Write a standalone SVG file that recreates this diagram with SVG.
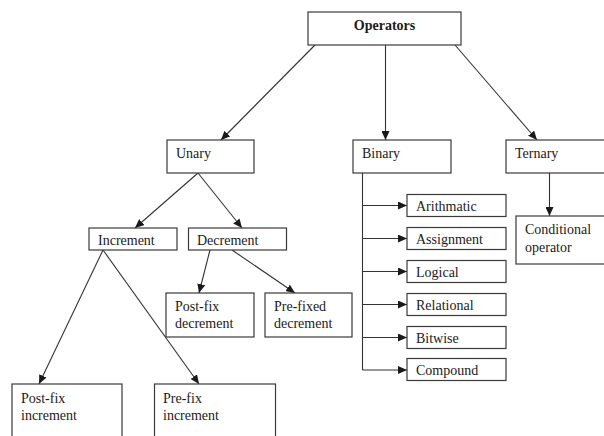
<svg xmlns="http://www.w3.org/2000/svg" width="604" height="436" viewBox="0 0 604 436">
  <style>
    .box { fill: #ffffff; stroke: #3a3a3a; stroke-width: 1.2; }
    .lbl { font-family: "Liberation Serif", "Times New Roman", serif; font-size: 14px; fill: #1a1a1a; }
    .title { font-weight: bold; text-anchor: middle; }
    .edge { fill: none; stroke: #333333; stroke-width: 1.1; }
  </style>
  <defs>
    <marker id="arrow" markerUnits="userSpaceOnUse" markerWidth="9" markerHeight="8" refX="9" refY="4" orient="auto">
      <path d="M0,0 L9,4 L0,8 z" fill="#1a1a1a"/>
    </marker>
  </defs>
  <rect width="604" height="436" fill="#ffffff"/>

  <!-- connectors -->
  <g id="connectors" class="edge">
    <line x1="315" y1="45" x2="221" y2="140" marker-end="url(#arrow)"/>
    <line x1="385.5" y1="45" x2="385.5" y2="140" marker-end="url(#arrow)"/>
    <line x1="455" y1="45" x2="537" y2="140" marker-end="url(#arrow)"/>
    <line x1="198" y1="173" x2="135" y2="228" marker-end="url(#arrow)"/>
    <line x1="198" y1="173" x2="242" y2="228" marker-end="url(#arrow)"/>
    <line x1="103" y1="250" x2="39" y2="384" marker-end="url(#arrow)"/>
    <line x1="103" y1="250" x2="199" y2="384" marker-end="url(#arrow)"/>
    <line x1="210" y1="250" x2="199" y2="293" marker-end="url(#arrow)"/>
    <line x1="232" y1="250" x2="295" y2="293" marker-end="url(#arrow)"/>
    <line x1="549.5" y1="173" x2="549.5" y2="216" marker-end="url(#arrow)"/>
    <line x1="362.5" y1="173" x2="362.5" y2="370"/>
    <line x1="362.5" y1="205.5" x2="407" y2="205.5" marker-end="url(#arrow)"/>
    <line x1="362.5" y1="238.5" x2="407" y2="238.5" marker-end="url(#arrow)"/>
    <line x1="362.5" y1="271.5" x2="407" y2="271.5" marker-end="url(#arrow)"/>
    <line x1="362.5" y1="304.5" x2="407" y2="304.5" marker-end="url(#arrow)"/>
    <line x1="362.5" y1="337.5" x2="407" y2="337.5" marker-end="url(#arrow)"/>
    <line x1="362.5" y1="370" x2="407" y2="370" marker-end="url(#arrow)"/>
  </g>

  <g id="operators">
    <rect class="box" x="308" y="12" width="153" height="33"/>
    <text class="lbl title" x="384.5" y="30">Operators</text>
  </g>
  <g id="unary">
    <rect class="box" x="167" y="140" width="87" height="33"/>
    <text class="lbl" x="176" y="158">Unary</text>
  </g>
  <g id="binary">
    <rect class="box" x="353" y="140" width="98" height="33"/>
    <text class="lbl" x="362" y="158">Binary</text>
  </g>
  <g id="ternary">
    <rect class="box" x="506" y="140" width="110" height="33"/>
    <text class="lbl" x="515" y="158">Ternary</text>
  </g>
  <g id="conditional">
    <rect class="box" x="516" y="216" width="100" height="48"/>
    <text class="lbl" x="525" y="234">Conditional</text>
    <text class="lbl" x="525" y="251.5">operator</text>
  </g>
  <g id="increment">
    <rect class="box" x="89" y="228" width="88" height="22"/>
    <text class="lbl" x="98" y="244.5">Increment</text>
  </g>
  <g id="decrement">
    <rect class="box" x="188.5" y="228" width="98" height="22"/>
    <text class="lbl" x="197" y="244.5">Decrement</text>
  </g>
  <g id="postfix-decrement">
    <rect class="box" x="166" y="293" width="88" height="44"/>
    <text class="lbl" x="175" y="311">Post-fix</text>
    <text class="lbl" x="175" y="328">decrement</text>
  </g>
  <g id="prefixed-decrement">
    <rect class="box" x="265" y="293" width="87" height="44"/>
    <text class="lbl" x="274" y="311">Pre-fixed</text>
    <text class="lbl" x="274" y="328">decrement</text>
  </g>
  <g id="postfix-increment">
    <rect class="box" x="12" y="384" width="110" height="60"/>
    <text class="lbl" x="21" y="403">Post-fix</text>
    <text class="lbl" x="21" y="420">increment</text>
  </g>
  <g id="prefix-increment">
    <rect class="box" x="154.5" y="384" width="121" height="60"/>
    <text class="lbl" x="163" y="403">Pre-fix</text>
    <text class="lbl" x="163" y="420">increment</text>
  </g>
  <g id="arithmatic">
    <rect class="box" x="407" y="194.5" width="99" height="22"/>
    <text class="lbl" x="416" y="211">Arithmatic</text>
  </g>
  <g id="assignment">
    <rect class="box" x="407" y="227.5" width="99" height="22"/>
    <text class="lbl" x="416" y="244">Assignment</text>
  </g>
  <g id="logical">
    <rect class="box" x="407" y="260.5" width="99" height="22"/>
    <text class="lbl" x="416" y="277">Logical</text>
  </g>
  <g id="relational">
    <rect class="box" x="407" y="293.5" width="99" height="22"/>
    <text class="lbl" x="416" y="310">Relational</text>
  </g>
  <g id="bitwise">
    <rect class="box" x="407" y="326.5" width="99" height="22"/>
    <text class="lbl" x="416" y="343">Bitwise</text>
  </g>
  <g id="compound">
    <rect class="box" x="407" y="358.5" width="99" height="22"/>
    <text class="lbl" x="416" y="375">Compound</text>
  </g>
</svg>
